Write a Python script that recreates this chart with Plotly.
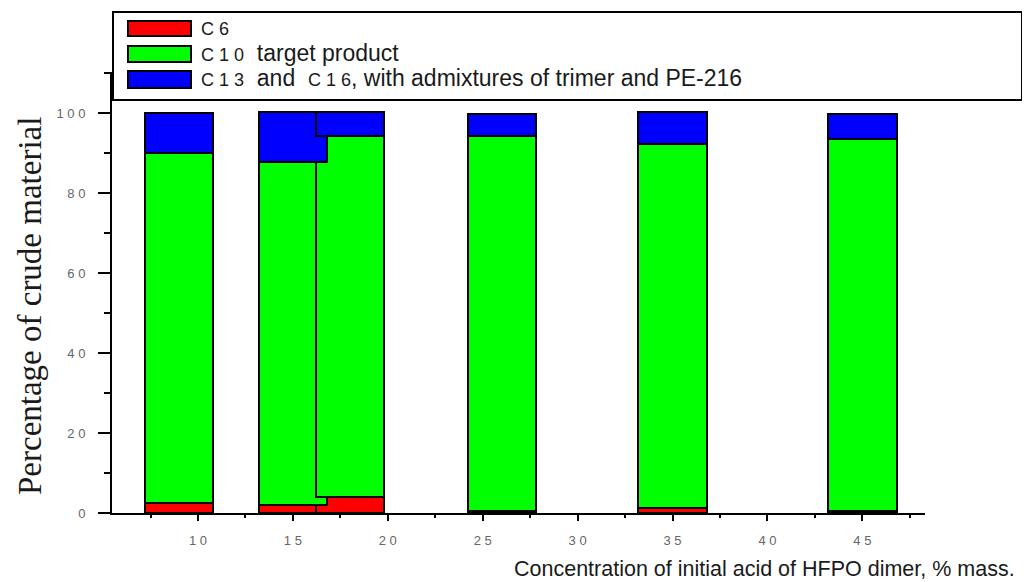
import plotly.graph_objects as go

# ---- data ----
concentration = [9, 15, 18, 26, 35, 45]          # % mass of initial acid
c6 = [2.5, 2.0, 4.0, 0.4, 1.2, 0.4]
c10 = [87.5, 85.8, 90.2, 93.8, 91.0, 93.1]
c13_c16 = [10.0, 12.5, 6.0, 5.5, 8.0, 6.2]

series_names = ["C 6", "C 1 0", "C 1 3"]
series_colors = ["#ff0000", "#00ff00", "#0000ff"]

x_tickvals = [10, 15, 20, 25, 30, 35, 40, 45]
x_ticktext = ["1 0", "1 5", "2 0", "2 5", "3 0", "3 5", "4 0", "4 5"]
y_tickvals = [0, 20, 40, 60, 80, 100]
y_ticktext = ["0", "2 0", "4 0", "6 0", "8 0", "1 0 0"]

# ---- layout geometry (reference pixels; page body has an 8px margin) ----
OFF = 8
W, H = 1030 - OFF, 582 - OFF
PL, PR, PT, PB = 112, 925, 72, 513


def px(x):
    return (x - PL) / (PR - PL)


def py(y):
    return (PB - y) / (PB - PT)


fig = go.Figure()
for name, vals, col in zip(series_names, [c6, c10, c13_c16], series_colors):
    fig.add_trace(go.Bar(
        x=concentration, y=vals, name=name, width=3.6,
        marker=dict(color=col, line=dict(color="black", width=2)),
        showlegend=False,
    ))

tickfont = dict(family="Liberation Sans", size=13, color="#666666")

fig.update_layout(
    width=W, height=H,
    margin=dict(l=PL - OFF, r=W - (PR - OFF), t=PT - OFF, b=H - (PB - OFF),
                autoexpand=False),
    barmode="stack",
    paper_bgcolor="white", plot_bgcolor="white",
    xaxis=dict(
        range=[5.47, 48.3], showgrid=False, zeroline=False,
        showline=True, linecolor="black", linewidth=2,
        tickmode="array", tickvals=x_tickvals, ticktext=x_ticktext,
        ticks="outside", ticklen=6, tickwidth=2, tickcolor="black",
        minor=dict(dtick=2.5, tick0=0, ticks="outside", ticklen=3,
                   tickwidth=2, tickcolor="black"),
        tickfont=tickfont, ticklabelstandoff=8,
    ),
    yaxis=dict(
        range=[0, 110.3], showgrid=False, zeroline=False,
        showline=True, linecolor="black", linewidth=2,
        tickmode="array", tickvals=y_tickvals, ticktext=y_ticktext,
        ticks="outside", ticklen=12, tickwidth=2, tickcolor="black",
        minor=dict(dtick=10, tick0=0, ticks="outside", ticklen=6,
                   tickwidth=2, tickcolor="black"),
        tickfont=tickfont, ticklabelstandoff=10,
    ),
)

# legend box
shapes = [dict(type="rect", xref="paper", yref="paper",
               x0=px(113), x1=px(1022), y0=py(100), y1=py(12),
               fillcolor="white", line=dict(color="black", width=2),
               layer="above")]
swatch_rows = [(21, 36), (46, 62), (71, 88)]
for (top, bot), col in zip(swatch_rows, series_colors):
    shapes.append(dict(type="rect", xref="paper", yref="paper",
                       x0=px(128), x1=px(191), y0=py(bot), y1=py(top),
                       fillcolor=col, line=dict(color="black", width=2),
                       layer="above"))
fig.update_layout(shapes=shapes)

small = '<span style="font-size:18px">%s</span>'
legend_texts = [
    small % "C 6",
    small % "C 1 0" + "  target product",
    small % "C 1 3" + "  and  " + small % "C 1 6" + ", with admixtures of trimer and PE-216",
]
legend_y = [29, 53, 78]
annotations = []
for txt, yy in zip(legend_texts, legend_y):
    annotations.append(dict(
        text=txt, xref="paper", yref="paper", x=px(199), y=py(yy),
        xanchor="left", yanchor="middle", showarrow=False,
        font=dict(family="Liberation Sans", size=23, color="#1a1a1a"),
    ))

annotations.append(dict(
    text="Concentration of initial acid of HFPO dimer, % mass.",
    xref="paper", yref="paper", x=px(1017), y=py(569),
    xanchor="right", yanchor="middle", showarrow=False,
    font=dict(family="Liberation Sans", size=21.5, color="#1a1a1a"),
))
annotations.append(dict(
    text="Percentage of crude material",
    xref="paper", yref="paper", x=px(30), y=py(306),
    xanchor="center", yanchor="middle", showarrow=False, textangle=-90,
    font=dict(family="Liberation Serif", size=33, color="#1a1a1a"),
))
fig.update_layout(annotations=annotations)

fig.write_html("out.html")
